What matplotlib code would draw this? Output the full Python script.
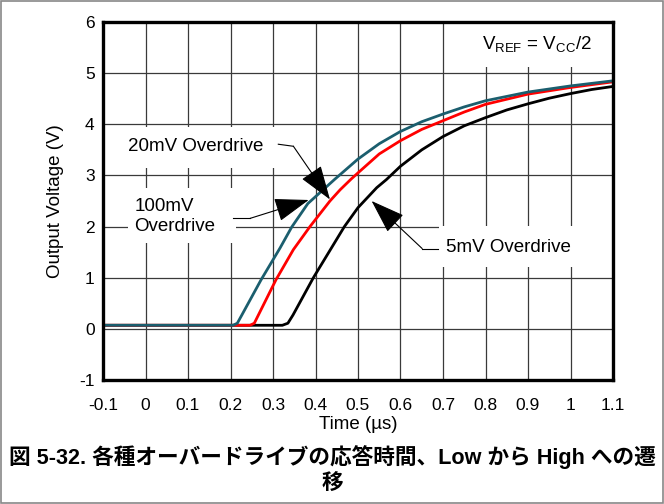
import matplotlib
matplotlib.use("Agg")
import matplotlib.pyplot as plt
from matplotlib.patches import Rectangle

plt.rcParams['font.family'] = ['Liberation Sans', 'Noto Sans CJK JP', 'DejaVu Sans']

# ---- data ----
t_100mv = [-0.1, 0.206, 0.216, 0.226, 0.272, 0.3165, 0.344, 0.382, 0.426, 0.446, 0.5, 0.55, 0.6, 0.65, 0.7, 0.75, 0.8, 0.9, 1.0, 1.1]
v_100mv = [0.07, 0.07, 0.11, 0.26, 0.96, 1.58, 1.99, 2.45, 2.78, 2.93, 3.32, 3.62, 3.86, 4.05, 4.20, 4.34, 4.46, 4.63, 4.75, 4.85]

t_20mv = [-0.1, 0.246, 0.256, 0.265, 0.307, 0.348, 0.387, 0.434, 0.458, 0.484, 0.5, 0.55, 0.6, 0.65, 0.7, 0.75, 0.8, 0.9, 1.0, 1.1]
v_20mv = [0.07, 0.07, 0.11, 0.26, 0.96, 1.55, 2.00, 2.50, 2.72, 2.93, 3.05, 3.42, 3.68, 3.90, 4.07, 4.24, 4.39, 4.59, 4.72, 4.83]

t_5mv = [-0.1, 0.322, 0.335, 0.347, 0.395, 0.468, 0.5, 0.544, 0.567, 0.6, 0.65, 0.7, 0.75, 0.8, 0.85, 0.9, 0.95, 1.0, 1.05, 1.1]
v_5mv = [0.07, 0.07, 0.11, 0.27, 1.00, 2.00, 2.37, 2.76, 2.92, 3.18, 3.50, 3.76, 3.97, 4.13, 4.28, 4.40, 4.51, 4.60, 4.68, 4.74]

x_ticks = [-0.1, 0.0, 0.1, 0.2, 0.3, 0.4, 0.5, 0.6, 0.7, 0.8, 0.9, 1.0, 1.1]
x_tick_labels = ["-0.1", "0", "0.1", "0.2", "0.3", "0.4", "0.5", "0.6", "0.7", "0.8", "0.9", "1", "1.1"]
y_ticks = [-1, 0, 1, 2, 3, 4, 5, 6]
y_tick_labels = ["-1", "0", "1", "2", "3", "4", "5", "6"]

label_100mv = "100mV\nOverdrive"
label_20mv = "20mV Overdrive"
label_5mv = "5mV Overdrive"
label_vref = r"V$_\mathregular{REF}$ = V$_\mathregular{CC}$/2"
x_label = "Time (µs)"
y_label = "Output Voltage (V)"
caption = "図 5-32. 各種オーバードライブの応答時間、Low から High への遷\n移"

col_teal = "#1b5e6e"
col_red = "#ff0000"
col_black = "#000000"

# ---- figure ----
fig = plt.figure(figsize=(6.64, 5.04), dpi=100)
ax = fig.add_axes([103/664, 1-380/504, 510/664, 358/504])

ax.set_xlim(-0.1, 1.1)
ax.set_ylim(-1, 6)
ax.set_xticks(x_ticks)
ax.set_xticklabels(x_tick_labels)
ax.set_yticks(y_ticks)
ax.set_yticklabels(y_tick_labels)
ax.tick_params(length=0, labelsize=12.5, colors='black')
ax.tick_params(axis='x', pad=13)
ax.tick_params(axis='y', pad=6)
ax.grid(True, color='#3a3a3a', lw=0.9, zorder=0)
ax.set_axisbelow(True)
for sp in ax.spines.values():
    sp.set_linewidth(2.4)
    sp.set_zorder(6)

# white masks behind annotation texts
for (x0, y0, w, h) in [(-0.1, 3.15, 0.462, 0.80),
                       (-0.042, 1.68, 0.255, 1.07),
                       (0.69, 1.20, 0.41, 0.81),
                       (0.77, 5.12, 0.33, 0.84)]:
    ax.add_patch(Rectangle((x0, y0), w, h, facecolor='white', edgecolor='none', zorder=1))

ax.plot(t_5mv, v_5mv, color=col_black, lw=2.0, zorder=3, solid_capstyle='butt')
ax.plot(t_20mv, v_20mv, color=col_red, lw=2.0, zorder=3, solid_capstyle='butt')
ax.plot(t_100mv, v_100mv, color=col_teal, lw=2.0, zorder=3.1, solid_capstyle='butt')

ax.set_xlabel(x_label, fontsize=13.5, labelpad=2)
ax.set_ylabel(y_label, fontsize=13.5, labelpad=11)

# annotation texts
ax.text(0.117, 3.56, label_20mv, fontsize=13.5, ha='center', va='center', zorder=4)
ax.text(-0.026, 2.20, label_100mv, fontsize=13.5, ha='left', va='center', zorder=4, linespacing=1.28)
ax.text(0.853, 1.59, label_5mv, fontsize=13.5, ha='center', va='center', zorder=4)
ax.text(0.921, 5.55, label_vref, fontsize=13.5, ha='center', va='center', zorder=4)

arrow_style = dict(arrowstyle='-|>,head_length=1.45,head_width=0.5', mutation_scale=15,
                   color='black', lw=0.8, shrinkA=0, shrinkB=0)
# 20mV
ax.plot([0.3125, 0.348], [3.61, 3.57], color='black', lw=0.8, zorder=4)
ax.annotate("", xy=(0.434, 2.53), xytext=(0.348, 3.57), arrowprops=arrow_style, zorder=4)
# 100mV
ax.plot([0.206, 0.246], [2.16, 2.16], color='black', lw=0.8, zorder=4)
ax.annotate("", xy=(0.384, 2.52), xytext=(0.246, 2.16), arrowprops=arrow_style, zorder=4)
# 5mV
ax.plot([0.688, 0.651], [1.57, 1.57], color='black', lw=0.8, zorder=4)
ax.annotate("", xy=(0.532, 2.50), xytext=(0.651, 1.57), arrowprops=arrow_style, zorder=4)

# caption
fig.text(0.5, 1-470/504, caption, fontsize=15.6, fontweight='bold', ha='center', va='center',
         linespacing=1.32)

# figure border
fig.patches.append(Rectangle((0.001, 0.001), 0.998, 0.998, transform=fig.transFigure,
                             fill=False, edgecolor='#888888', lw=1.2))

fig.savefig("out.png", dpi=100)
